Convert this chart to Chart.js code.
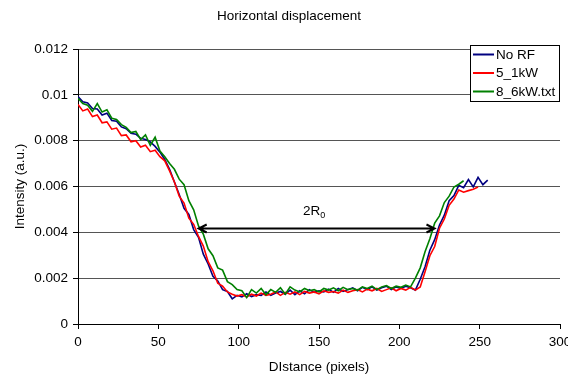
<!DOCTYPE html>
<html>
<head>
<meta charset="utf-8">
<script src="https://cdn.jsdelivr.net/npm/chart.js@4.4.1/dist/chart.umd.min.js"></script>
<style>
  html, body { margin: 0; padding: 0; background: #fff; overflow: hidden; }
  #wrap { width: 590px; height: 377px; }
</style>
</head>
<body>
<div id="wrap"><canvas id="chart" width="590" height="377"></canvas></div>
<script>
// Distance (pixels) for every sample
const distance = [0,3,6,9,12,15,18,21,24,27,30,33,36,39,42,45,48,51,54,57,60,63,66,69,72,75,78,81,84,87,
  90,93,96,99,102,105,108,111,114,117,120,123,126,129,132,135,138,141,144,147,150,153,156,159,162,165,168,171,174,177,
  180,183,186,189,192,195,198,201,204,207,210,213,216,219,222,225,228,231,234,237,240,243,246,249,252,255];

// Intensity (a.u.) per series
const noRF = [0.00992,0.00970,0.00965,0.00940,0.00938,0.00912,0.00920,0.00888,0.00885,0.00860,
  0.00852,0.00832,0.00828,0.00810,0.00805,0.00795,0.00775,0.00750,0.00718,0.00675,
  0.00620,0.00565,0.00505,0.00478,0.00412,0.00378,0.00305,0.00262,0.00208,0.00188,
  0.00150,0.00142,0.00110,0.00125,0.00118,0.00132,0.00120,0.00128,0.00125,0.00140,
  0.00125,0.00135,0.00142,0.00130,0.00148,0.00128,0.00145,0.00132,0.00150,0.00138,
  0.00145,0.00140,0.00152,0.00138,0.00155,0.00142,0.00150,0.00158,0.00145,0.00160,
  0.00150,0.00162,0.00148,0.00158,0.00165,0.00150,0.00162,0.00155,0.00165,0.00158,
  0.00148,0.00195,0.00250,0.00322,0.00368,0.00432,0.00475,0.00538,0.00560,0.00605,
  0.00595,0.00630,0.00598,0.00640,0.00608,0.00628];

const rf5_1kW = [0.00958,0.00930,0.00938,0.00905,0.00912,0.00878,0.00882,0.00850,0.00855,0.00822,
  0.00825,0.00795,0.00800,0.00772,0.00780,0.00752,0.00758,0.00730,0.00712,0.00668,
  0.00620,0.00558,0.00528,0.00462,0.00435,0.00382,0.00340,0.00272,0.00232,0.00178,
  0.00165,0.00140,0.00130,0.00122,0.00128,0.00118,0.00130,0.00122,0.00135,0.00125,
  0.00130,0.00140,0.00125,0.00138,0.00130,0.00140,0.00128,0.00142,0.00135,0.00140,
  0.00132,0.00145,0.00138,0.00142,0.00135,0.00148,0.00138,0.00145,0.00150,0.00140,
  0.00152,0.00145,0.00155,0.00142,0.00150,0.00158,0.00145,0.00155,0.00148,0.00160,
  0.00148,0.00162,0.00228,0.00298,0.00338,0.00418,0.00458,0.00518,0.00545,0.00585,
  0.00575,0.00582,0.00588,0.00598];

const rf8_6kW = [0.00985,0.00962,0.00955,0.00928,0.00962,0.00925,0.00935,0.00898,0.00892,0.00870,
  0.00858,0.00835,0.00840,0.00805,0.00825,0.00780,0.00815,0.00755,0.00730,0.00700,
  0.00675,0.00632,0.00608,0.00538,0.00498,0.00428,0.00392,0.00328,0.00298,0.00245,
  0.00235,0.00185,0.00172,0.00150,0.00145,0.00115,0.00150,0.00135,0.00155,0.00128,
  0.00150,0.00138,0.00158,0.00130,0.00162,0.00148,0.00140,0.00155,0.00145,0.00150,
  0.00140,0.00155,0.00148,0.00158,0.00145,0.00160,0.00150,0.00155,0.00148,0.00162,
  0.00155,0.00165,0.00150,0.00162,0.00168,0.00155,0.00165,0.00160,0.00170,0.00162,
  0.00200,0.00245,0.00315,0.00372,0.00440,0.00472,0.00530,0.00558,0.00598,0.00610,
  0.00625];

const seriesNames = ['No RF', '5_1kW', '8_6kW.txt'];
const seriesColors = ['#000080', '#ff0000', '#008000'];

// 2R0 annotation (data units)
const arrowFrom = 74.5;
const arrowTo = 222.5;
const arrowLevel = 0.0042;
const arrowLabelX = 147;
const arrowLabelY = 0.0049;

const FONT = 'Liberation Sans, Arial, sans-serif';

function pairs(values) {
  return values.map((v, i) => ({ x: distance[i], y: v }));
}

// title, legend box and the 2R0 arrow
const decorations = {
  id: 'decorations',
  afterDatasetsDraw(chart) {
    const ctx = chart.ctx;
    const xs = chart.scales.x, ys = chart.scales.y;
    const x1 = xs.getPixelForValue(arrowFrom);
    const x2 = xs.getPixelForValue(arrowTo);
    const y = Math.round(ys.getPixelForValue(arrowLevel)) + 0.5;
    ctx.save();
    ctx.strokeStyle = '#000';
    ctx.lineWidth = 2;
    ctx.beginPath();
    ctx.moveTo(x1, y); ctx.lineTo(x2, y);
    ctx.moveTo(x1 + 9, y - 4); ctx.lineTo(x1 + 1, y); ctx.lineTo(x1 + 9, y + 4);
    ctx.moveTo(x2 - 9, y - 4); ctx.lineTo(x2 - 1, y); ctx.lineTo(x2 - 9, y + 4);
    ctx.stroke();

    const lx = xs.getPixelForValue(arrowLabelX);
    const ly = ys.getPixelForValue(arrowLabelY);
    ctx.fillStyle = '#000';
    ctx.textBaseline = 'middle';
    ctx.font = '13.5px ' + FONT;
    const w1 = ctx.measureText('2R').width;
    ctx.font = '9px ' + FONT;
    const w2 = ctx.measureText('0').width;
    const sx = lx - (w1 + w2) / 2;
    ctx.font = '13.5px ' + FONT;
    ctx.textAlign = 'left';
    ctx.fillText('2R', sx, ly);
    ctx.font = '9px ' + FONT;
    ctx.fillText('0', sx + w1, ly + 4);
    ctx.restore();
  },
  afterDraw(chart) {
    const ctx = chart.ctx;
    ctx.save();
    ctx.fillStyle = '#000';
    ctx.font = '13.5px ' + FONT;
    ctx.textAlign = 'center';
    ctx.textBaseline = 'middle';
    ctx.fillText('Horizontal displacement', 289, 16.5);

    // legend box
    ctx.fillStyle = '#fff';
    ctx.fillRect(470.5, 45.5, 89, 56);
    ctx.strokeStyle = '#000';
    ctx.lineWidth = 1;
    ctx.strokeRect(470.5, 45.5, 89, 56);
    const rows = [54.5, 73, 91.5];
    ctx.textAlign = 'left';
    seriesNames.forEach((name, i) => {
      ctx.strokeStyle = seriesColors[i];
      ctx.lineWidth = 2;
      ctx.beginPath();
      ctx.moveTo(473, rows[i]); ctx.lineTo(494, rows[i]);
      ctx.stroke();
      ctx.fillStyle = '#000';
      ctx.fillText(name, 496, rows[i] + 0.5);
    });
    ctx.restore();
  }
};

new Chart(document.getElementById('chart'), {
  type: 'line',
  data: {
    datasets: [
      { label: seriesNames[0], data: pairs(noRF), borderColor: seriesColors[0], order: 2 },
      { label: seriesNames[1], data: pairs(rf5_1kW), borderColor: seriesColors[1], order: 1 },
      { label: seriesNames[2], data: pairs(rf8_6kW), borderColor: seriesColors[2], order: 0 }
    ]
  },
  options: {
    responsive: false,
    animation: false,
    devicePixelRatio: 1,
    layout: { padding: { top: 49, right: 30, left: 0, bottom: 0 } },
    elements: {
      point: { radius: 0 },
      line: { borderWidth: 1.6, tension: 0 }
    },
    plugins: {
      legend: { display: false },
      title: { display: false },
      tooltip: { enabled: false }
    },
    scales: {
      x: {
        type: 'linear',
        min: 0,
        max: 300,
        ticks: { stepSize: 50, color: '#000', font: { family: FONT, size: 13.5 }, padding: 5, maxRotation: 0 },
        grid: { drawOnChartArea: false, drawTicks: true, tickLength: 5, tickColor: '#000' },
        border: { color: '#000', width: 1 },
        title: { display: true, text: 'DIstance (pixels)', color: '#000', font: { family: FONT, size: 13.5 }, padding: { top: 2, bottom: 2 } },
        afterFit(scale) { scale.height = 53; }
      },
      y: {
        min: 0,
        max: 0.012,
        ticks: {
          stepSize: 0.002,
          color: '#000',
          font: { family: FONT, size: 13.5 },
          padding: 5,
          callback: v => String(Number(v.toFixed(3)))
        },
        grid: { color: '#555', lineWidth: 1, tickLength: 5, tickColor: '#000' },
        border: { color: '#000', width: 1 },
        title: { display: true, text: 'Intensity (a.u.)', color: '#000', font: { family: FONT, size: 13.5 }, padding: { top: 12 } },
        afterFit(scale) { scale.width = 78; }
      }
    }
  },
  plugins: [decorations]
});
</script>
</body>
</html>
